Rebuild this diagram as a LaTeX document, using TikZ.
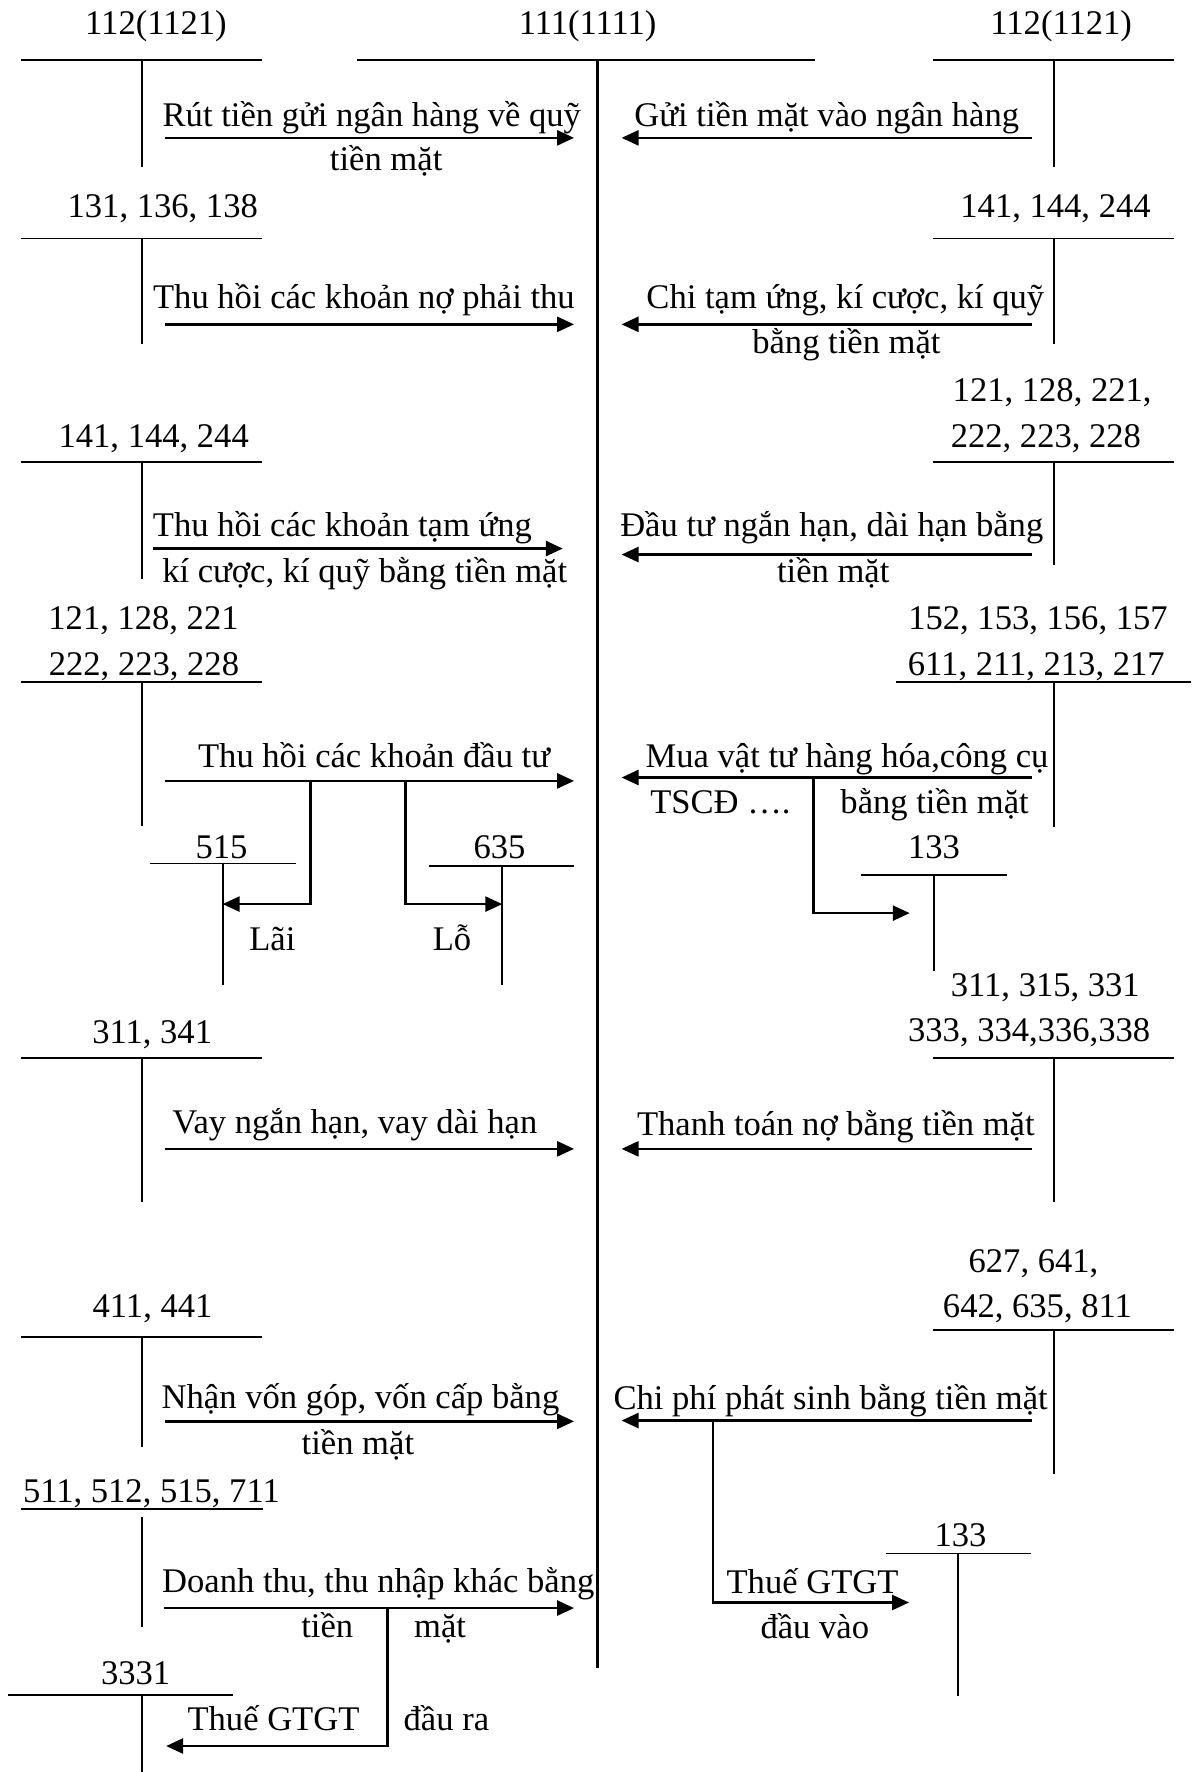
\documentclass[tikz,border=0pt]{standalone}
\usepackage{fontspec}
\setmainfont{Liberation Serif}
\usetikzlibrary{arrows.meta}

\begin{document}
\begin{tikzpicture}[x=0.5pt,y=-0.5pt,
  lbl/.style={anchor=base,inner sep=0pt,font=\fontsize{15.3}{18}\selectfont},
  acct/.style={draw,line width=0.8pt},
  flow/.style={draw,line width=1.2pt,-{Triangle[length=7.5pt,width=6.6pt]}},
  branch/.style={draw,line width=1.2pt}]
\useasboundingbox (0,0) rectangle (1057,1568);

% cash account in the middle
\node[lbl] (t111) at (520,30.4) {111(1111)};
\path[acct] (316,53) -- (721,53);
\path[draw,line width=1.2pt] (529,53) -- (529,1476);

% row 1
\node[lbl] (t112l) at (138,30.4) {112(1121)};
\path[acct] (18.6,53) -- (232,53);
\path[acct] (125.4,53) -- (125.4,147.5);
\node[lbl] (t112r) at (939,30.4) {112(1121)};
\path[acct] (826,53) -- (1039,53);
\path[acct] (933,53) -- (933,147.5);

\coordinate (r1s) at (146,122);
\coordinate (r1e) at (508,122);
\path[flow] (r1s) -- (r1e);
\node[lbl] (d1a) at (329,111.5) {Rút tiền gửi ngân hàng về quỹ};
\node[lbl] (d1b) at (341.7,150.5) {tiền mặt};
\coordinate (l1s) at (913,122);
\coordinate (l1e) at (550,122);
\path[flow] (l1s) -- (l1e);
\node[lbl] (c1a) at (731.6,111.5) {Gửi tiền mặt vào ngân hàng};

% row 2
\node[lbl] (t131) at (144,192.4) {131, 136, 138};
\path[acct] (18.6,211) -- (232,211);
\path[acct] (125.4,211) -- (125.4,304);
\node[lbl] (t141r) at (934,192.4) {141, 144, 244};
\path[acct] (826,211) -- (1039,211);
\path[acct] (933,211) -- (933,304);

\coordinate (r2s) at (146,287);
\coordinate (r2e) at (508,287);
\path[flow] (r2s) -- (r2e);
\node[lbl] (d2a) at (322,273) {Thu hồi các khoản nợ phải thu};
\coordinate (l2s) at (913,287);
\coordinate (l2e) at (550,287);
\path[flow] (l2s) -- (l2e);
\node[lbl] (c2a) at (748,273) {Chi tạm ứng, kí cược, kí quỹ};
\node[lbl] (c2b) at (749,312.8) {bằng tiền mặt};

% row 3
\node[lbl] (t141l) at (136,396) {141, 144, 244};
\path[acct] (18.6,409) -- (232,409);
\path[acct] (125.4,409) -- (125.4,512);
\node[lbl] (t121ra) at (931,355.6) {121, 128, 221,};
\node[lbl] (t121rb) at (925.5,396) {222, 223, 228};
\path[acct] (826,409) -- (1039,409);
\path[acct] (933,409) -- (933,500);

\coordinate (r3s) at (135.6,485.4);
\coordinate (r3e) at (498,485.4);
\path[flow] (r3s) -- (r3e);
\node[lbl] (d3a) at (303,475) {Thu hồi các khoản tạm ứng};
\node[lbl] (d3b) at (322.7,515) {kí cược, kí quỹ bằng tiền mặt};
\coordinate (l3s) at (913,490.7);
\coordinate (l3e) at (550,490.7);
\path[flow] (l3s) -- (l3e);
\node[lbl] (c3a) at (736,475) {Đầu tư ngắn hạn, dài hạn bằng};
\node[lbl] (c3b) at (737.3,515) {tiền mặt};

% row 4
\node[lbl] (t121la) at (127,557) {121, 128, 221};
\node[lbl] (t121lb) at (127.4,597.6) {222, 223, 228};
\path[acct] (18.6,603.5) -- (232,603.5);
\path[acct] (125.4,603.5) -- (125.4,731);
\node[lbl] (t152a) at (918.5,557) {152, 153, 156, 157};
\node[lbl] (t152b) at (917,597.6) {611, 211, 213, 217};
\path[acct] (793,603.5) -- (1054,603.5);
\path[acct] (933,603.5) -- (933,732);

\coordinate (r4s) at (146,691);
\coordinate (r4e) at (508,691);
\path[flow] (r4s) -- (r4e);
\node[lbl] (d4a) at (331,678.7) {Thu hồi các khoản đầu tư};

\node[lbl] (t515) at (196,760) {515};
\path[acct] (133,764) -- (262,764);
\path[acct] (197,764) -- (197,872);
\coordinate (b515) at (274.5,691);
\coordinate (e515) at (197,800);
\path[flow] (b515) |- (e515);
\node[lbl] (lai) at (241,841) {Lãi};

\node[lbl] (t635) at (442,760) {635};
\path[acct] (380,766) -- (508,766);
\path[acct] (444.5,766) -- (444.5,872);
\coordinate (b635) at (359,691);
\coordinate (e635) at (444.5,800);
\path[flow] (b635) |- (e635);
\node[lbl] (lo) at (400,841) {Lỗ};

\coordinate (l4s) at (913,688);
\coordinate (l4e) at (550,688);
\path[flow] (l4s) -- (l4e);
\node[lbl] (c4a) at (749.5,678.7) {Mua vật tư hàng hóa,công cụ};
\node[lbl,anchor=base west] (c4b) at (575,720) {TSCĐ ….};
\node[lbl] (c4c) at (827,720) {bằng tiền mặt};

\node[lbl] (t133a) at (826.5,760) {133};
\path[acct] (762,774.6) -- (891,774.6);
\path[acct] (826.4,774.6) -- (826.4,859);
\coordinate (b133a) at (720,688);
\coordinate (e133a) at (805,808);
\path[flow] (b133a) |- (e133a);

% row 5
\node[lbl] (t311l) at (134.7,923) {311, 341};
\path[acct] (18.6,936) -- (232,936);
\path[acct] (125.4,936) -- (125.4,1064);
\node[lbl] (t311ra) at (925,882) {311, 315, 331};
\node[lbl] (t311rb) at (910.7,922) {333, 334,336,338};
\path[acct] (826,936) -- (1039,936);
\path[acct] (933,936) -- (933,1064);

\coordinate (r5s) at (146,1016.6);
\coordinate (r5e) at (508,1016.6);
\path[flow] (r5s) -- (r5e);
\node[lbl] (d5a) at (314,1003.3) {Vay ngắn hạn, vay dài hạn};
\coordinate (l5s) at (913,1016.6);
\coordinate (l5e) at (550,1016.6);
\path[flow] (l5s) -- (l5e);
\node[lbl] (c5a) at (739.6,1004.8) {Thanh toán nợ bằng tiền mặt};

% row 6
\node[lbl] (t411) at (135,1165.6) {411, 441};
\path[acct] (18.6,1183.4) -- (232,1183.4);
\path[acct] (125.4,1183.4) -- (125.4,1280.7);
\node[lbl] (t627a) at (914.5,1125.8) {627, 641,};
\node[lbl] (t627b) at (918,1166) {642, 635, 811};
\path[acct] (826,1177) -- (1039,1177);
\path[acct] (933,1177) -- (933,1304);

\coordinate (r6s) at (146,1257.7);
\coordinate (r6e) at (508,1257.7);
\path[flow] (r6s) -- (r6e);
\node[lbl] (d6a) at (319,1246.7) {Nhận vốn góp, vốn cấp bằng};
\node[lbl] (d6b) at (316.7,1287) {tiền mặt};
\coordinate (l6s) at (913,1257);
\coordinate (l6e) at (550,1257);
\path[flow] (l6s) -- (l6e);
\node[lbl] (c6a) at (735,1246.8) {Chi phí phát sinh bằng tiền mặt};

\node[lbl] (t133b) at (850,1368.4) {133};
\path[acct] (784,1374.6) -- (912,1374.6);
\path[acct] (847.7,1374.6) -- (847.7,1500.6);
\coordinate (b133b) at (630.9,1257);
\coordinate (e133b) at (804.4,1418);
\path[flow] (b133b) |- (e133b);
\node[lbl] (v1) at (719,1410) {Thuế GTGT};
\node[lbl] (v2) at (721,1449.5) {đầu vào};

% row 7
\node[lbl] (t511) at (134,1329.4) {511, 512, 515, 711};
\path[acct] (19,1335.3) -- (232.4,1335.3);
\path[acct] (125.7,1342.7) -- (125.7,1439.5);

\coordinate (r7s) at (145.4,1422.9);
\coordinate (r7e) at (508,1422.9);
\path[flow] (r7s) -- (r7e);
\node[lbl] (d7a) at (334.7,1409) {Doanh thu, thu nhập khác bằng};
\node[lbl] (d7b) at (289.6,1449) {tiền};
\node[lbl] (d7c) at (389.4,1449) {mặt};

\node[lbl] (t3331) at (120,1490.2) {3331};
\path[acct] (7.1,1499.7) -- (206,1499.7);
\path[acct] (125.7,1499.7) -- (125.7,1568);
\coordinate (b3331) at (342.6,1422.9);
\coordinate (e3331) at (147,1545);
\path[flow] (b3331) |- (e3331);
\node[lbl] (r1) at (242,1531.5) {Thuế GTGT};
\node[lbl] (r2) at (395,1531.5) {đầu ra};
\end{tikzpicture}
\end{document}
